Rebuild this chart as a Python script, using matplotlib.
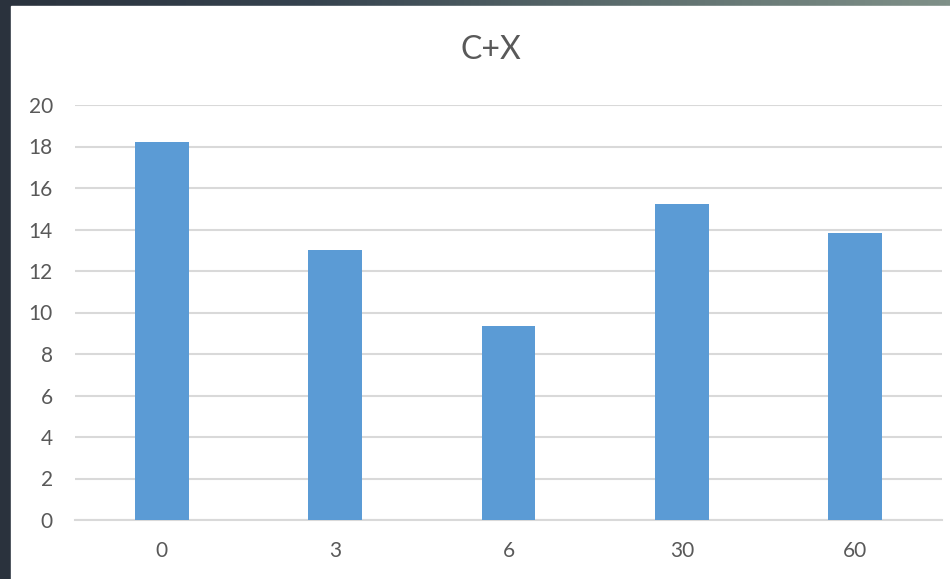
import numpy as np
import matplotlib.pyplot as plt
from matplotlib.patches import Rectangle
from matplotlib.colors import LinearSegmentedColormap

plt.rcParams['font.family'] = ['Lato', 'DejaVu Sans']

categories = ["0", "3", "6", "30", "60"]
values = [18.2, 13.0, 9.35, 15.23, 13.85]
yticks = [0, 2, 4, 6, 8, 10, 12, 14, 16, 18, 20]
title = "C+X"

W, H = 950, 579
fig = plt.figure(figsize=(W / 100, H / 100), dpi=100)

# dark slide background behind the chart panel
bg = fig.add_axes([0, 0, 1, 1])
grad = np.linspace(0, 1, 256).reshape(1, -1)
cmap = LinearSegmentedColormap.from_list("slide", ["#2a323d", "#36434f", "#5d6e6e", "#7f9088"])
bg.imshow(grad, aspect="auto", cmap=cmap, extent=[0, 1, 0, 1])
bg.add_patch(Rectangle((11 / W, 0), 1, (H - 6) / H, color="white", zorder=2))
bg.set_xlim(0, 1)
bg.set_ylim(0, 1)
bg.axis("off")

ax = fig.add_axes([75 / W, (H - 520) / H, (942 - 75) / W, (520 - 105) / H])
x = np.arange(len(categories))
ax.bar(x, values, width=0.31, color="#5b9bd5", zorder=3)
ax.set_xlim(-0.5, len(categories) - 0.5)
ax.set_ylim(0, 20)
ax.set_yticks(yticks)
ax.set_xticks(x)
ax.set_xticklabels(categories)
ax.grid(axis="y", color="#d9d9d9", linewidth=1.5, zorder=0)
ax.set_axisbelow(True)
for s in ["top", "right", "left"]:
    ax.spines[s].set_visible(False)
ax.spines["bottom"].set_color("#d9d9d9")
ax.spines["bottom"].set_linewidth(1.5)
ax.tick_params(axis="both", length=0, labelsize=15, labelcolor="#595959")
ax.tick_params(axis="y", pad=16)
ax.tick_params(axis="x", pad=15)
ax.patch.set_alpha(0)

fig.text(491 / W, 1 - 50 / H, title, ha="center", va="center", fontsize=23, color="#595959")

fig.savefig("out.png", dpi=100)
